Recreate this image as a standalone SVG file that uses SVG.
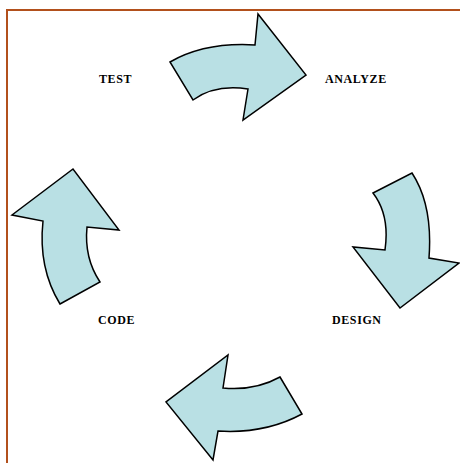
<svg xmlns="http://www.w3.org/2000/svg" width="460" height="463" viewBox="0 0 460 463">
<style>
.frame{stroke:#b2501c;stroke-width:2;fill:none}
.arrow{fill:#b9e0e4;stroke:#000;stroke-width:1.5;stroke-linejoin:miter}
.lbl{font-family:"Liberation Serif",serif;font-weight:bold;font-size:12px;fill:#000;letter-spacing:0.6px}
</style>
<rect width="460" height="463" fill="#fff"/>
<g id="frame"><path class="frame" d="M460 10 H7 V463"/></g>
<g id="connectors">
<path id="arrow-top" class="arrow" d="M170 62 Q205 42 255 45 L258 14 L306 75 L243 120 L248 89 Q215 84 193 100 Z"/>
<path id="arrow-right" class="arrow" d="M373 193 L412 173 Q433 205 429 258 L459 263 L400 308 L353 247 L385 250 Q390 215 373 193 Z"/>
<path id="arrow-bottom" class="arrow" d="M280 377 L302 414 Q265 434 218 431 L213 460 L166 402 L228 355 L223 388 Q255 391 280 377 Z"/>
<path id="arrow-left" class="arrow" d="M60 304 L100 282 Q84 258 87 227 L119 230 L73 169 L12 215 L43 221 Q38 268 60 304 Z"/>
</g>
<g id="node-test"><text class="lbl" x="99" y="83">TEST</text></g>
<g id="node-analyze"><text class="lbl" x="325" y="83">ANALYZE</text></g>
<g id="node-design"><text class="lbl" x="332" y="324">DESIGN</text></g>
<g id="node-code"><text class="lbl" x="98" y="324">CODE</text></g>
</svg>
